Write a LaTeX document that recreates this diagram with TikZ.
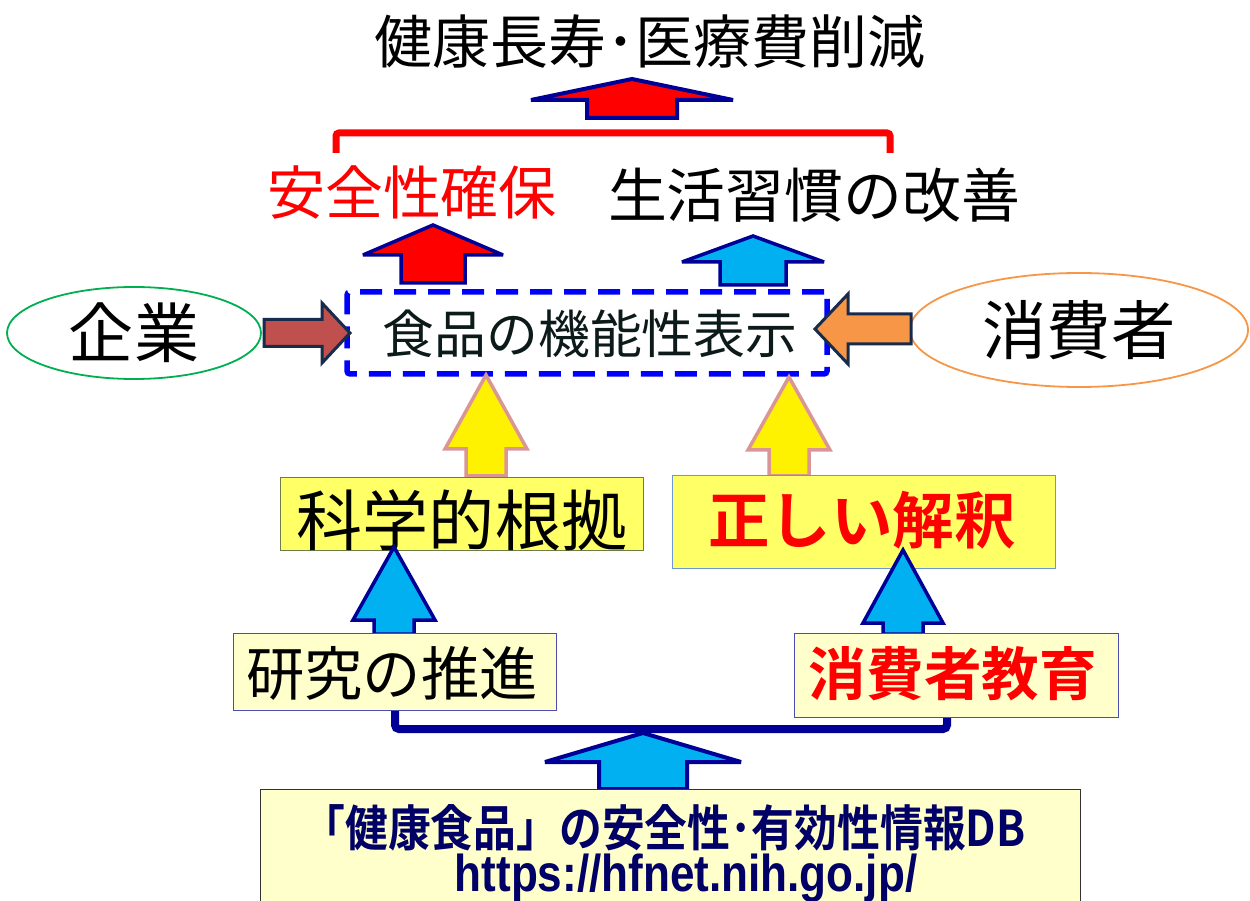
\documentclass[tikz,border=0pt]{standalone}
\usepackage{fontspec}
\usepackage{graphicx}
\usetikzlibrary{shapes.geometric}
\newfontfamily\jp{Noto Sans CJK JP}[BoldFont={Noto Sans CJK JP Bold}]
\newfontfamily\lat{Liberation Sans}
\newdimen\pxu \pxu=0.02cm
\definecolor{navy}{RGB}{0,0,150}
\definecolor{skyb}{RGB}{0,176,240}
\definecolor{brownr}{RGB}{192,80,77}
\definecolor{orng}{RGB}{247,150,70}
\definecolor{darkbd}{RGB}{23,43,77}
\definecolor{pinkbd}{RGB}{217,150,148}
\definecolor{ylw}{RGB}{255,255,102}
\definecolor{pale}{RGB}{255,255,204}
\definecolor{txtnavy}{RGB}{0,0,102}
\definecolor{grn}{RGB}{0,176,80}
\definecolor{olive}{RGB}{110,125,70}
\definecolor{boxblue}{RGB}{110,150,210}
\definecolor{kinotxt}{RGB}{13,26,26}
% style, cx, tipy, barby, boty, halfhead, halfshaft
\newcommand\upblk[7]{\draw[#1] (#2,#3) -- (#2+#6,#4) -- (#2+#7,#4) -- (#2+#7,#5) -- (#2-#7,#5) -- (#2-#7,#4) -- (#2-#6,#4) -- cycle;}
% style, tailx, headbasex, tipx, cy, shafthalf, headhalf
\newcommand\hblk[7]{\draw[#1] (#2,#5-#6) -- (#3,#5-#6) -- (#3,#5-#7) -- (#4,#5) -- (#3,#5+#7) -- (#3,#5+#6) -- (#2,#5+#6) -- cycle;}
\tikzset{
  txt/.style={font=\jp\fontsize{#1}{#1}\selectfont, inner sep=0pt},
  txtb/.style={font=\jp\bfseries\fontsize{#1}{#1}\selectfont, inner sep=0pt},
  redup/.style={fill=red, draw=navy, line width=3.5\pxu, line join=miter, miter limit=3},
  blueup/.style={fill=skyb, draw=navy, line width=3.5\pxu, line join=miter, miter limit=3},
  ylwup/.style={fill=yellow, draw=pinkbd, line width=3.5\pxu, line join=miter, miter limit=3},
  sidearr/.style={draw=darkbd, line width=3\pxu, line join=miter},
  bx/.style={draw, line width=1.2\pxu, inner sep=0pt, anchor=north west},
}
\begin{document}
\begin{tikzpicture}[x=0.02cm, y=-0.02cm]
\useasboundingbox (0,0) rectangle (1250,901);
% top
\node[txt=33pt] (title) at (650,42) {健康長寿･医療費削減};
\upblk{redup, line width=4\pxu}{632}{79}{100}{118}{101}{45}
\draw[red, line width=7\pxu, rounded corners=3\pxu] (336,153) -- (336,133) -- (890,133) -- (890,153);
\node[txt=33pt, text=red] (safety) at (412,192) {安全性確保};
\node[txt=33.5pt] (life) at (814,195) {生活習慣の改善};
\upblk{redup}{433}{225}{255}{283}{70}{32}
\upblk{blueup}{753}{236}{262}{285}{71}{33}
% middle row
\node[draw=blue, line width=5.5\pxu, dash pattern=on 22\pxu off 12\pxu, rounded corners=3\pxu,
      minimum width=480\pxu, minimum height=82\pxu, inner sep=0pt] (kino) at (587,333) {};
\node[txt=29.5pt, text=kinotxt] (kinot) at (590,334) {食品の機能性表示};
\node[draw=grn, line width=1.8\pxu, ellipse, minimum width=254\pxu, minimum height=92\pxu, inner sep=0pt,
      font=\jp\fontsize{37pt}{37pt}\selectfont] (kigyo) at (134,333) {企業};
\node[draw=orng, line width=1.8\pxu, ellipse, minimum width=338\pxu, minimum height=114\pxu, inner sep=0pt,
      font=\jp\fontsize{36.6pt}{36.6pt}\selectfont] (shohi) at (1079,330) {消費者};
\hblk{sidearr, fill=brownr}{264}{322}{350}{333}{13.5}{30}
\hblk{sidearr, fill=orng}{911}{848}{815}{329}{15}{35}
% yellow arrows
\upblk{ylwup}{486}{375}{449}{476}{41}{20}
\upblk{ylwup}{789}{377}{450}{476}{41}{20}
% second row boxes
\node[bx, draw=olive, fill=ylw, minimum width=363\pxu, minimum height=73\pxu] (kagaku) at (280,477) {};
\node[txt=37.6pt] (kagakut) at (462,520) {科学的根拠};
\node[bx, draw=boxblue, fill=ylw, minimum width=383\pxu, minimum height=93\pxu] (tadashii) at (672,475) {};
\node[txtb=35pt, text=red] (tadashiit) at (862,520) {正しい解釈};
% blue arrows
\upblk{blueup}{394}{547}{620}{634}{41}{20}
\upblk{blueup}{903}{550}{623}{634}{40}{20}
% third row boxes
\node[bx, draw=navy!70, fill=pale, minimum width=323\pxu, minimum height=77\pxu] (kenkyu) at (233,633) {};
\node[txt=33.2pt] (kenkyut) at (392,673) {研究の推進};
\node[bx, draw=navy!70, fill=pale, minimum width=324\pxu, minimum height=84\pxu] (kyoiku) at (794,633) {};
\node[txtb=32.8pt, text=red] (kyoikut) at (953,674) {消費者教育};
% bottom bracket
\draw[navy, line width=8\pxu, rounded corners=4\pxu] (kenkyu.south -| 395,0) -- (395,729) -- (947,729) -- (kyoiku.south -| 947,0);
% bottom arrow and box
\upblk{blueup, line width=4\pxu}{643}{733}{762}{789}{98}{44}
\node[bx, draw=black!80, fill=pale, minimum width=820\pxu, minimum height=125\pxu] (db) at (260,789) {};
\node[inner sep=0pt, text=txtnavy, font=\jp\bfseries\fontsize{28pt}{28pt}\selectfont] (dbt1) at (664,828) {\scalebox{0.87}[1]{「健康食品」の安全性･有効性情報DB}};
\node[inner sep=0pt, text=txtnavy, font=\lat\bfseries\fontsize{29.5pt}{29.5pt}\selectfont] (dbt2) at (686,878) {\scalebox{0.85}[1]{https://hfnet.nih.go.jp/}};
\end{tikzpicture}
\end{document}
